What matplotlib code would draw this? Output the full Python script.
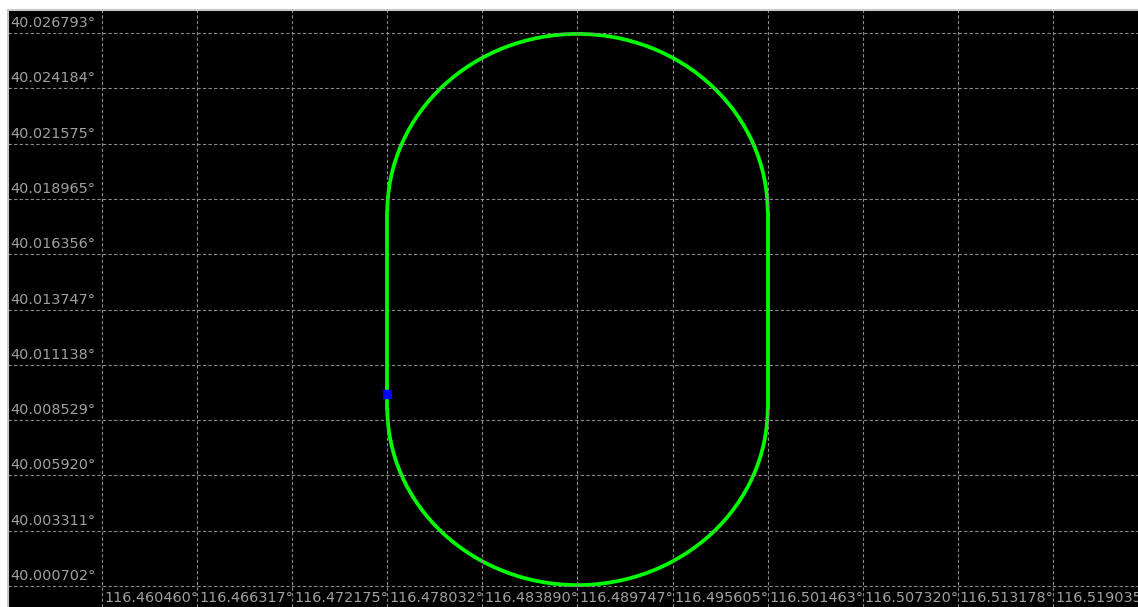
import matplotlib
matplotlib.use("Agg")
import matplotlib.pyplot as plt
from matplotlib.patches import Arc

# grid tick values (degrees)
lon_ticks = [116.460460, 116.466317, 116.472175, 116.478032, 116.483890, 116.489747,
             116.495605, 116.501463, 116.507320, 116.513178, 116.519035]
lat_ticks = [40.026793, 40.024184, 40.021575, 40.018965, 40.016356, 40.013747,
             40.011138, 40.008529, 40.005920, 40.003311, 40.000702]

# race track: two straights joined by two half ellipses
straight_lon = [116.478032, 116.501463]     # west / east straight
straight_lat = [40.009101, 40.018348]       # south / north end of straights
arc_lat_top = 40.026750
arc_lat_bottom = 40.000745

# current position marker
pos_lon, pos_lat = 116.478032, 40.009762

# visible area
lon_lim = (116.45467, 116.52427)
lat_lim = (39.999711, 40.027878)

fig = plt.figure(figsize=(11.38, 6.07), dpi=100, facecolor="white")
ax = fig.add_axes([8 / 1138, 0, 1130 / 1138, 597 / 607])
ax.set_facecolor("black")
ax.set_xlim(*lon_lim)
ax.set_ylim(*lat_lim)

# grid
ax.set_xticks(lon_ticks)
ax.set_yticks(lat_ticks)
ax.tick_params(length=0, labelbottom=False, labelleft=False)
ax.grid(color="#8a8a8a", linestyle=(0, (3, 2)), linewidth=0.8)
for s in ["bottom", "right"]:
    ax.spines[s].set_visible(False)
for s in ["top", "left"]:
    ax.spines[s].set_color("#c8c8c8")
    ax.spines[s].set_linewidth(1.5)

# track
green = "#00ff00"
lw = 2.7
for lon in straight_lon:
    ax.plot([lon, lon], straight_lat, color=green, lw=lw, solid_capstyle="round")
c_lon = (straight_lon[0] + straight_lon[1]) / 2
w = straight_lon[1] - straight_lon[0]
ax.add_patch(Arc((c_lon, straight_lat[1]), w, 2 * (arc_lat_top - straight_lat[1]),
                 theta1=0, theta2=180, color=green, lw=lw))
ax.add_patch(Arc((c_lon, straight_lat[0]), w, 2 * (straight_lat[0] - arc_lat_bottom),
                 theta1=180, theta2=360, color=green, lw=lw))

ax.plot([pos_lon], [pos_lat], "s", color="#0000ff", markersize=6, zorder=5)

# labels drawn inside the plot area
font = dict(family=["DejaVu Sans"], fontsize=10.4, color="#a0a0a0")
for lat in lat_ticks:
    ax.annotate(f"{lat:.6f}°", xy=(0, lat), xycoords=ax.get_yaxis_transform(),
                xytext=(2, 3), textcoords="offset pixels", ha="left", va="bottom",
                annotation_clip=False, **font)
for lon in lon_ticks:
    ax.annotate(f"{lon:.6f}°", xy=(lon, 0), xycoords=ax.get_xaxis_transform(),
                xytext=(2, 2), textcoords="offset pixels", ha="left", va="bottom",
                annotation_clip=False, **font)

fig.savefig("out.png", dpi=100, facecolor=fig.get_facecolor())
